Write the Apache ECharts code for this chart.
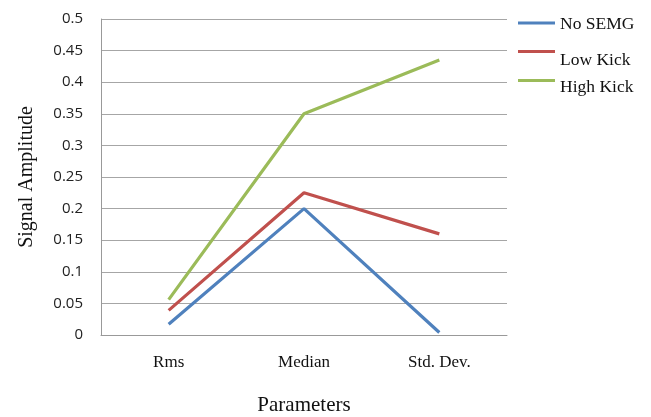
<!DOCTYPE html>
<html>
<head>
<meta charset="utf-8">
<script src="https://cdn.jsdelivr.net/npm/echarts@6/dist/echarts.min.js"></script>
<style>
  html, body { margin: 0; padding: 0; background: #fff; }
  #chart { width: 651px; height: 417px; }
</style>
</head>
<body>
<div id="chart"></div>
<script>
// Parameters on the x axis
const categories = ['Rms', 'Median', 'Std. Dev.'];

// Signal amplitude per condition
const noSemg = [0.017, 0.200, 0.004];
const lowKick = [0.039, 0.225, 0.160];
const highKick = [0.056, 0.350, 0.435];

const seriesNames = ['No SEMG', 'Low Kick', 'High Kick'];
const colors = ['#4F81BD', '#C0504D', '#9BBB59'];

const chart = echarts.init(document.getElementById('chart'), null, { renderer: 'canvas' });

function lineSeries(name, data, color) {
  return {
    name: name,
    type: 'line',
    data: data,
    symbol: 'none',
    lineStyle: { color: color, width: 3.2 },
    itemStyle: { color: color }
  };
}

// One legend block per entry so each row sits at its own height;
// a tall bottom-aligned line box drops the label below its swatch.
function legendEntry(name, top, boxHeight) {
  return {
    orient: 'vertical',
    left: 518,
    top: top,
    padding: 0,
    itemWidth: 37,
    itemHeight: 3,
    icon: 'rect',
    formatter: n => '{t|' + n + '}',
    textStyle: {
      fontFamily: 'Liberation Serif',
      fontSize: 17.5,
      color: '#111',
      rich: {
        t: {
          fontFamily: 'Liberation Serif',
          fontSize: 17.5,
          color: '#111',
          lineHeight: boxHeight,
          verticalAlign: 'bottom'
        }
      }
    },
    data: [name]
  };
}

chart.setOption({
  animation: false,
  backgroundColor: '#fff',
  grid: {
    left: 101, right: 144, top: 19, bottom: 82,
    containLabel: false,
    outerBoundsMode: 'none'
  },
  legend: [
    legendEntry(seriesNames[0], 15, 20),
    legendEntry(seriesNames[1], 50, 36),
    legendEntry(seriesNames[2], 78, 31)
  ],
  xAxis: {
    type: 'category',
    data: categories,
    boundaryGap: true,
    name: 'Parameters',
    nameLocation: 'middle',
    nameGap: 60,
    nameTextStyle: { fontFamily: 'Liberation Serif', fontSize: 21, color: '#111' },
    axisLine: { lineStyle: { color: '#999', width: 1 } },
    axisTick: { show: false },
    axisLabel: { fontFamily: 'Liberation Serif', fontSize: 17, color: '#111', margin: 19 }
  },
  yAxis: {
    type: 'value',
    min: 0,
    max: 0.5,
    interval: 0.05,
    name: 'Signal Amplitude',
    nameLocation: 'middle',
    nameGap: 64,
    nameTextStyle: { fontFamily: 'Liberation Serif', fontSize: 20, color: '#111' },
    axisLine: { show: true, lineStyle: { color: '#999', width: 1 } },
    axisTick: { show: false },
    splitLine: { lineStyle: { color: '#a6a6a6', width: 1 } },
    axisLabel: {
      fontFamily: 'Open Sans',
      fontSize: 15,
      color: '#222',
      margin: 18,
      formatter: v => String(parseFloat(v.toFixed(2)))
    }
  },
  series: [
    lineSeries(seriesNames[0], noSemg, colors[0]),
    lineSeries(seriesNames[1], lowKick, colors[1]),
    lineSeries(seriesNames[2], highKick, colors[2])
  ]
});
</script>
</body>
</html>
